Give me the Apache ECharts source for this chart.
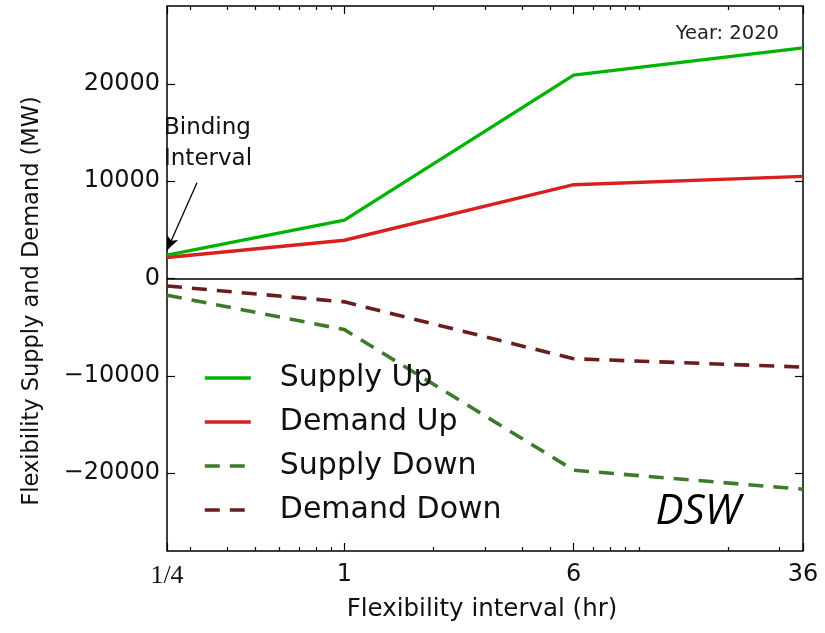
<!DOCTYPE html>
<html>
<head>
<meta charset="utf-8">
<script src="https://cdn.jsdelivr.net/npm/echarts@6/dist/echarts.min.js"></script>
<style>html,body{margin:0;padding:0;background:#fff}#c{width:825px;height:633px}</style>
</head>
<body>
<div id="c"></div>
<script>
// Flexibility interval (hr)
var intervals = [0.25, 1, 6, 36];
var xMajorTicks = [0.25, 1, 6, 36];
var xMinorTicks = [0.3, 0.4, 0.5, 0.6, 0.7, 0.8, 0.9, 2, 3, 4, 5, 7, 8, 9, 10, 20, 30];
var yTicks = [-20000, -10000, 0, 10000, 20000];

var seriesNames = ['Supply Up', 'Demand Up', 'Supply Down', 'Demand Down'];
var supplyUp   = [2400, 6000, 20900, 23700];
var demandUp   = [2160, 3930, 9640, 10490];
var supplyDown = [-1720, -5250, -19700, -21650];
var demandDown = [-770, -2400, -8250, -9100];

var colors = ['#00b300', '#d92020', '#3d7a2a', '#6b1c1c'];
var dashed = [false, false, true, true];

function pairs(vals) { return intervals.map(function (x, i) { return [x, vals[i]]; }); }

var FONT = '"DejaVu Sans", sans-serif';
var chart = echarts.init(document.getElementById('c'), null, {renderer: 'canvas'});

function xAxisCfg(pos, ticks, len, labels) {
  return {
    type: 'log', logBase: 6, min: 0.25, max: 36, position: pos,
    axisLine: {show: false, onZero: false},
    splitLine: {show: false},
    axisTick: {show: true, inside: true, length: len, customValues: ticks, lineStyle: {color: '#000', width: 1.2}},
    axisLabel: labels ? {
      show: true, customValues: xMajorTicks, margin: 12, color: '#111',
      fontFamily: FONT, fontSize: 24,
      formatter: function (v) { return Math.abs(v - 0.25) < 1e-6 ? '{s|1/4}' : String(Math.round(v)); },
      rich: {s: {fontFamily: '"Liberation Serif", "DejaVu Serif", serif', fontSize: 26, color: '#111', verticalAlign: 'top', lineHeight: 24}}
    } : {show: false}
  };
}
function yAxisCfg(pos, labels) {
  return {
    type: 'value', min: -28000, max: 28000, position: pos,
    axisLine: {show: false, onZero: false}, splitLine: {show: false},
    axisTick: {show: true, inside: true, length: 8, customValues: yTicks, lineStyle: {color: '#000', width: 1.2}},
    axisLabel: labels ? {
      show: true, customValues: yTicks, margin: 7, color: '#111', fontFamily: FONT, fontSize: 24,
      formatter: function (v) { return v < 0 ? '\u2212' + Math.abs(v) : String(v); }
    } : {show: false}
  };
}

var values = [supplyUp, demandUp, supplyDown, demandDown];
var series = seriesNames.map(function (n, i) {
  return {
    name: n, type: 'line', data: pairs(values[i]), symbol: 'none', z: 5 - i,
    lineStyle: {color: colors[i], width: dashed[i] ? 3.6 : 3.4, type: dashed[i] ? [15, 10] : 'solid'},
    itemStyle: {color: colors[i]}
  };
});
series[0].markLine = {silent: true, symbol: 'none', label: {show: false},
  lineStyle: {color: '#000', width: 1.5, type: 'solid'}, data: [{yAxis: 0}]};
series[1].markLine = {silent: true, symbol: ['arrow', 'none'], symbolSize: [9, 14], label: {show: false},
  lineStyle: {color: '#000', width: 1.3, type: 'solid'},
  data: [[{coord: [0.25, 2900]}, {coord: [0.316, 9850]}]]};

var option = {
  animation: false,
  backgroundColor: '#fff',
  grid: {left: 167, right: 22, top: 6, bottom: 82, show: true, borderColor: '#000', borderWidth: 1.5, backgroundColor: 'transparent'},
  xAxis: [
    xAxisCfg('bottom', xMajorTicks, 8, true),
    xAxisCfg('top', xMajorTicks, 8, false),
    xAxisCfg('bottom', xMinorTicks, 4, false),
    xAxisCfg('top', xMinorTicks, 4, false)
  ],
  yAxis: [yAxisCfg('left', true), yAxisCfg('right', false)],
  legend: {
    show: true,
    orient: 'vertical', left: 198, top: 358, itemWidth: 46, itemHeight: 14, itemGap: 14,
    textStyle: {fontFamily: FONT, fontSize: 30, color: '#111', padding: [0, 0, 0, 24]},
    data: seriesNames.map(function (n, i) {
      return {name: n, itemStyle: {opacity: 0},
        lineStyle: {color: colors[i], width: 3.6, type: dashed[i] ? [15, 10] : 'solid'}};
    })
  },
  series: series,
  graphic: [
    {type: 'text', x: 32, y: 301, rotation: Math.PI / 2,
     style: {text: 'Flexibility Supply and Demand (MW)', font: '22.5px ' + FONT, fill: '#111', textAlign: 'center', textVerticalAlign: 'middle'}},
    {type: 'text', x: 482, y: 610,
     style: {text: 'Flexibility interval (hr)', font: '24.5px ' + FONT, fill: '#111', textAlign: 'center', textVerticalAlign: 'middle'}},
    {type: 'text', x: 164, y: 113,
     style: {text: 'Binding\nInterval', font: '23px ' + FONT, lineHeight: 31, fill: '#111', textAlign: 'left', textVerticalAlign: 'top'}},
    {type: 'text', x: 779, y: 34,
     style: {text: 'Year: 2020', font: '19.5px ' + FONT, fill: '#222', textAlign: 'right', textVerticalAlign: 'middle'}},
    {type: 'text', x: 698, y: 512,
     style: {text: 'DSW', font: 'italic 42px "Open Sans", sans-serif', fill: '#000', textAlign: 'center', textVerticalAlign: 'middle'}}
  ]
};
chart.setOption(option);
</script>
</body>
</html>
